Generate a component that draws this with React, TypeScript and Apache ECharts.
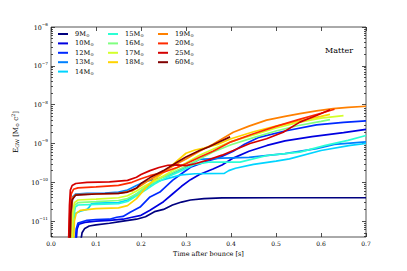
import React, { useEffect, useRef } from 'react';
import * as echarts from 'echarts';

// mass labels (M_sun) and jet colours
const masses = ['9', '10', '12', '13', '14', '15', '16', '17', '18', '19', '20', '25', '60'];
const colors = ['#00007f', '#0000e0', '#002aff', '#0080ff', '#00d4ff', '#2bffd4', '#80ff80', '#d4ff2b', '#ffd400', '#ff8000', '#ff2b00', '#d40000', '#800000'];

// [time after bounce (s), E_GW (M_sun c^2)]
const m9 = [[0.066, 3e-12], [0.069, 5e-12], [0.075, 6.5e-12], [0.085, 7.5e-12], [0.1, 8.0e-12], [0.13, 8.8e-12], [0.16, 1.0e-11], [0.19, 1.12e-11], [0.21, 1.3e-11], [0.23, 1.75e-11], [0.25, 2.0e-11], [0.27, 2.6e-11], [0.29, 3.1e-11], [0.31, 3.5e-11], [0.34, 3.8e-11], [0.38, 3.95e-11], [0.5, 4.0e-11], [0.7, 4.0e-11]];
const m10 = [[0.056, 3.2e-12], [0.058, 6.3e-12], [0.062, 8.3e-12], [0.075, 9.3e-12], [0.1, 1.0e-11], [0.13, 1.05e-11], [0.16, 1.12e-11], [0.18, 1.26e-11], [0.2, 1.41e-11], [0.22, 1.9e-11], [0.25, 3.16e-11], [0.27, 5.0e-11], [0.29, 7.9e-11], [0.31, 1.17e-10], [0.33, 1.58e-10], [0.36, 2.2e-10], [0.38, 2.8e-10], [0.405, 4.2e-10], [0.44, 6.3e-10], [0.48, 8.9e-10], [0.52, 1.17e-9], [0.58, 1.5e-9], [0.65, 1.9e-9], [0.7, 2.3e-9]];
const m12 = [[0.054, 3.2e-12], [0.056, 6.3e-12], [0.06, 8.9e-12], [0.08, 1.05e-11], [0.1, 1.1e-11], [0.13, 1.12e-11], [0.146, 1.26e-11], [0.16, 1.32e-11], [0.176, 1.7e-11], [0.198, 2.3e-11], [0.22, 4.2e-11], [0.242, 5.6e-11], [0.27, 1.12e-10], [0.29, 1.66e-10], [0.31, 2.45e-10], [0.35, 3.6e-10], [0.376, 4.4e-10], [0.405, 6.3e-10], [0.43, 9.5e-10], [0.46, 1.41e-9], [0.52, 2.1e-9], [0.59, 3.0e-9], [0.65, 3.5e-9], [0.7, 3.8e-9]];
const m13 = [[0.044, 3e-12], [0.046, 2e-11], [0.048, 4.2e-11], [0.055, 5.0e-11], [0.08, 5.2e-11], [0.12, 5.3e-11], [0.15, 5.6e-11], [0.17, 6.3e-11], [0.19, 8.3e-11], [0.21, 1.05e-10], [0.24, 1.26e-10], [0.27, 1.7e-10], [0.3, 2.5e-10], [0.33, 3.9e-10], [0.38, 4.2e-10], [0.44, 4.4e-10], [0.52, 5.5e-10], [0.59, 7.4e-10], [0.63, 9.5e-10], [0.7, 1.1e-9]];
const m14 = [[0.049, 3e-12], [0.051, 1.2e-11], [0.055, 1.6e-11], [0.065, 1.8e-11], [0.08, 2.0e-11], [0.085, 2.3e-11], [0.09, 2.8e-11], [0.1, 2.9e-11], [0.15, 3.0e-11], [0.17, 3.5e-11], [0.19, 5e-11], [0.21, 7e-11], [0.23, 1.0e-10], [0.26, 1.26e-10], [0.29, 1.55e-10], [0.32, 1.66e-10], [0.385, 1.7e-10], [0.395, 2.0e-10], [0.41, 2.3e-10], [0.45, 2.9e-10], [0.5, 3.5e-10], [0.53, 4.0e-10], [0.6, 6.6e-10], [0.665, 8.9e-10], [0.7, 1.0e-9]];
const m15 = [[0.048, 2.5e-12], [0.05, 1.2e-11], [0.054, 2.3e-11], [0.06, 2.6e-11], [0.1, 2.7e-11], [0.15, 2.8e-11], [0.17, 3.2e-11], [0.19, 4.5e-11], [0.21, 6.3e-11], [0.23, 9e-11], [0.26, 1.4e-10], [0.29, 2.0e-10], [0.32, 2.9e-10], [0.35, 3.3e-10], [0.42, 3.3e-10], [0.48, 4.9e-10], [0.553, 6.0e-10], [0.61, 8.9e-10], [0.66, 1.2e-9], [0.7, 1.6e-9]];
const m16 = [[0.047, 2.5e-12], [0.049, 1.26e-11], [0.053, 2.6e-11], [0.06, 3.0e-11], [0.1, 3.16e-11], [0.15, 3.4e-11], [0.17, 3.8e-11], [0.19, 5.0e-11], [0.21, 7.6e-11], [0.24, 1.2e-10], [0.27, 1.78e-10], [0.3, 2.6e-10], [0.33, 4.0e-10], [0.36, 6.0e-10], [0.4, 9.3e-10], [0.45, 1.41e-9], [0.5, 2.1e-9], [0.55, 2.9e-9], [0.6, 3.7e-9], [0.62, 4.1e-9]];
const m17 = [[0.046, 2.5e-12], [0.048, 1.6e-11], [0.052, 3.0e-11], [0.06, 3.5e-11], [0.1, 3.7e-11], [0.15, 4.0e-11], [0.17, 4.5e-11], [0.19, 6.0e-11], [0.21, 8.3e-11], [0.24, 1.26e-10], [0.27, 2.0e-10], [0.3, 3.16e-10], [0.33, 5.0e-10], [0.36, 7.1e-10], [0.4, 1.12e-9], [0.45, 1.66e-9], [0.5, 2.5e-9], [0.55, 3.5e-9], [0.6, 4.5e-9], [0.65, 5.2e-9]];
const m18 = [[0.05, 2.5e-12], [0.052, 1.0e-11], [0.056, 1.58e-11], [0.065, 1.9e-11], [0.1, 2.1e-11], [0.15, 2.2e-11], [0.17, 2.5e-11], [0.19, 3.8e-11], [0.21, 7.1e-11], [0.23, 1.2e-10], [0.26, 2.2e-10], [0.28, 3.55e-10], [0.3, 5.6e-10], [0.32, 6.8e-10], [0.34, 7.6e-10], [0.37, 9.5e-10], [0.4, 1.32e-9], [0.45, 2.0e-9], [0.5, 2.8e-9], [0.55, 3.8e-9], [0.6, 5.0e-9], [0.62, 5.6e-9]];
const m19 = [[0.043, 2.5e-12], [0.045, 1.6e-11], [0.048, 4.0e-11], [0.055, 4.8e-11], [0.1, 5.0e-11], [0.15, 5.2e-11], [0.18, 6.0e-11], [0.2, 8.3e-11], [0.22, 1.17e-10], [0.25, 1.9e-10], [0.28, 3.0e-10], [0.3, 4.0e-10], [0.33, 6.3e-10], [0.36, 9.5e-10], [0.405, 1.95e-9], [0.44, 2.8e-9], [0.479, 4.0e-9], [0.52, 5.0e-9], [0.553, 5.9e-9], [0.59, 6.9e-9], [0.627, 7.9e-9], [0.66, 8.5e-9], [0.7, 9.1e-9]];
const m20 = [[0.04, 2.5e-12], [0.042, 2.0e-11], [0.045, 5.0e-11], [0.05, 6.6e-11], [0.06, 7.2e-11], [0.1, 7.6e-11], [0.15, 8.3e-11], [0.18, 1.0e-10], [0.2, 1.23e-10], [0.22, 1.48e-10], [0.25, 1.82e-10], [0.28, 2.4e-10], [0.3, 3.0e-10], [0.33, 4.4e-10], [0.36, 6.3e-10], [0.4, 1.1e-9], [0.45, 1.78e-9], [0.5, 2.75e-9], [0.55, 4.1e-9], [0.6, 6.0e-9], [0.63, 7.6e-9]];
const m25 = [[0.039, 2.5e-12], [0.041, 2.5e-11], [0.043, 6.3e-11], [0.047, 8.3e-11], [0.055, 9.3e-11], [0.08, 1.0e-10], [0.13, 1.02e-10], [0.17, 1.12e-10], [0.19, 1.35e-10], [0.2, 1.58e-10], [0.22, 2.0e-10], [0.24, 2.4e-10], [0.26, 2.75e-10], [0.28, 2.8e-10], [0.3, 2.7e-10], [0.32, 3.0e-10], [0.35, 3.8e-10], [0.38, 5.0e-10], [0.405, 6.6e-10], [0.442, 1.0e-9], [0.479, 1.32e-9], [0.516, 1.95e-9], [0.553, 3.55e-9], [0.59, 5.25e-9], [0.62, 7.4e-9]];
const m60 = [[0.042, 2.5e-12], [0.044, 1.6e-11], [0.047, 3.55e-11], [0.055, 4.7e-11], [0.1, 5.0e-11], [0.15, 5.2e-11], [0.17, 5.6e-11], [0.19, 7.1e-11], [0.2, 9.3e-11], [0.22, 1.32e-10], [0.25, 2.0e-10], [0.28, 3.3e-10], [0.3, 4.5e-10], [0.33, 6.6e-10], [0.35, 8.1e-10], [0.37, 1.05e-9], [0.398, 1.48e-9]];

const seriesData = [m9, m10, m12, m13, m14, m15, m16, m17, m18, m19, m20, m25, m60];

// axis ranges and ticks
const xTicks = [0, 0.1, 0.2, 0.3, 0.4, 0.5, 0.6, 0.7];
const yMin = 3.9e-12;
const yMax = 1e-6;
const yMajor = [1e-11, 1e-10, 1e-9, 1e-8, 1e-7, 1e-6];
const yMinor: number[] = [];
[-12, -11, -10, -9, -8, -7].forEach((p) => {
  [2, 3, 4, 5, 6, 7, 8, 9].forEach((k) => {
    const v = k * Math.pow(10, p);
    if (v > yMin && v < yMax) yMinor.push(v);
  });
});

const FONT = '"DejaVu Serif", serif';

export default function App() {
  const ref = useRef<HTMLDivElement>(null);
  useEffect(() => {
    if (!ref.current) return;
    const chart = echarts.init(ref.current, null, { renderer: 'svg' });
    const tickStyle = { color: '#222', width: 0.8 };
    const yBase = {
      type: 'log',
      logBase: 10,
      min: yMin,
      max: yMax,
      axisLine: { show: false },
      splitLine: { show: false },
      minorTick: { show: false },
    };
    const legendBase = {
      orient: 'vertical',
      top: 30,
      itemWidth: 10,
      itemHeight: 2,
      itemGap: 1.4,
      icon: 'rect',
      selectedMode: false,
      padding: 0,
      formatter: (n: string) => `${n}M{s|⊙}`,
      textStyle: {
        fontFamily: FONT,
        fontSize: 6.6,
        color: '#000',
        lineHeight: 8,
        padding: [0, 0, 0, 2],
        rich: { s: { fontFamily: FONT, fontSize: 4.4, lineHeight: 8, padding: [3, 0, 0, 0], color: '#000' } },
      },
    };
    const option: any = {
      animation: false,
      textStyle: { fontFamily: FONT },
      grid: { left: 51, right: 41, top: 27, bottom: 34, show: true, borderColor: '#555', borderWidth: 1 },
      legend: [
        { ...legendBase, left: 58, data: masses.slice(0, 5) },
        { ...legendBase, left: 108, data: masses.slice(5, 9) },
        { ...legendBase, left: 158, data: masses.slice(9) },
      ],
      xAxis: [
        {
          type: 'value',
          min: 0,
          max: 0.7,
          interval: 0.1,
          position: 'bottom',
          name: 'Time after bounce [s]',
          nameLocation: 'middle',
          nameGap: 9,
          nameTextStyle: { fontFamily: FONT, fontSize: 6.5, color: '#000' },
          axisLine: { show: false },
          splitLine: { show: false },
          axisTick: { inside: true, length: 4, lineStyle: tickStyle, customValues: xTicks },
          axisLabel: { fontFamily: FONT, fontSize: 6, color: '#000', margin: 3, customValues: xTicks, formatter: (v: number) => v.toFixed(1) },
        },
        {
          type: 'value',
          min: 0,
          max: 0.7,
          interval: 0.1,
          position: 'top',
          axisLine: { show: false },
          splitLine: { show: false },
          axisTick: { inside: true, length: 4, lineStyle: tickStyle },
          axisLabel: { show: false },
        },
      ],
      yAxis: [
        {
          ...yBase,
          position: 'left',
          name: 'E{sub|GW} [M{sub|⊙} c{sup|2}]',
          nameLocation: 'middle',
          nameRotate: 90,
          nameGap: 19,
          nameTextStyle: {
            fontFamily: FONT,
            fontSize: 7,
            color: '#000',
            rich: {
              sub: { fontFamily: FONT, fontSize: 4.8, padding: [4, 0, 0, 0], color: '#000' },
              sup: { fontFamily: FONT, fontSize: 4.8, padding: [0, 0, 4, 0], color: '#000' },
            },
          },
          axisTick: { inside: true, length: 4, lineStyle: tickStyle, customValues: yMajor },
          axisLabel: {
            customValues: yMajor,
            margin: 3,
            fontFamily: FONT,
            fontSize: 6.3,
            color: '#000',
            formatter: (v: number) => `10{e|−${-Math.round(Math.log10(v))}}`,
            rich: { e: { fontFamily: FONT, fontSize: 4.2, padding: [0, 0, 5, 0], color: '#000' } },
          },
        },
        { ...yBase, position: 'left', axisTick: { inside: true, length: 2, lineStyle: tickStyle, customValues: yMinor }, axisLabel: { show: false } },
        { ...yBase, position: 'right', axisTick: { inside: true, length: 4, lineStyle: tickStyle, customValues: yMajor }, axisLabel: { show: false } },
        { ...yBase, position: 'right', axisTick: { inside: true, length: 2, lineStyle: tickStyle, customValues: yMinor }, axisLabel: { show: false } },
      ],
      graphic: [
        { type: 'text', left: 325, top: 46, style: { text: 'Matter', font: `8px ${FONT}`, fill: '#000' } },
      ],
      series: masses.map((m, i) => ({
        name: m,
        type: 'line',
        xAxisIndex: 0,
        yAxisIndex: 0,
        data: seriesData[i],
        showSymbol: false,
        symbol: 'none',
        color: colors[i],
        lineStyle: { width: 1.7, color: colors[i] },
        itemStyle: { color: colors[i] },
        clip: true,
      })),
    };
    chart.setOption(option);
    return () => chart.dispose();
  }, []);
  return <div ref={ref} style={{ position: 'fixed', left: 0, top: 0, width: 407, height: 271, background: '#fff' }} />;
}
